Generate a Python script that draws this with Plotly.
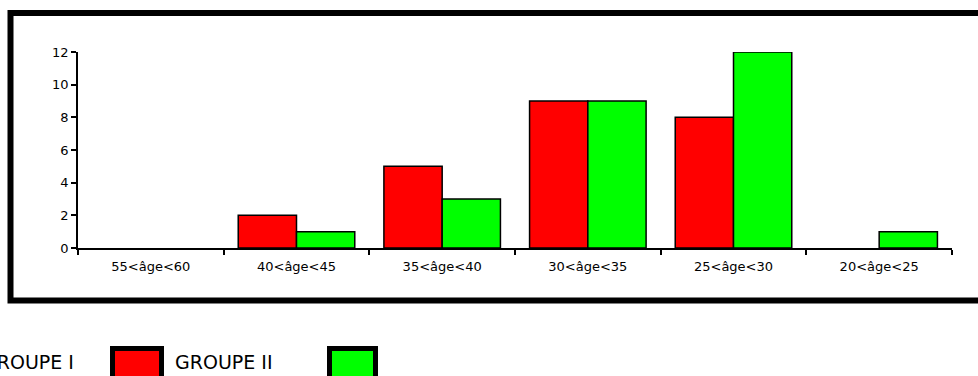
import plotly.graph_objects as go

categories = ["55<âge<60", "40<âge<45", "35<âge<40", "30<âge<35", "25<âge<30", "20<âge<25"]
series_names = ["GROUPE I", "GROUPE II"]
groupe_1 = [0, 2, 5, 9, 8, 0]
groupe_2 = [0, 1, 3, 9, 12, 1]
colors = ["#ff0000", "#00ff00"]
y_ticks = [0, 2, 4, 6, 8, 10, 12]

W, H = 978, 376
L, R, T, B = 78, 26, 52, 128
pw, ph = W - L - R, H - T - B


def px_x(p):
    return (p - L) / pw


def px_y(p):
    return (H - B - p) / ph


font = dict(family="DejaVu Sans", size=13, color="#000000")

fig = go.Figure()
for name, vals, col in zip(series_names, [groupe_1, groupe_2], colors):
    fig.add_trace(go.Bar(
        x=categories, y=vals, name=name,
        marker=dict(color=col,
                    line=dict(color="#000000",
                              width=[1.5 if v else 0 for v in vals])),
        showlegend=False,
    ))

fig.update_layout(
    width=W, height=H,
    margin=dict(l=L, r=R, t=T, b=B),
    paper_bgcolor="#ffffff", plot_bgcolor="#ffffff",
    barmode="group", bargap=0.2, bargroupgap=0,
    font=font,
)
fig.update_xaxes(
    showline=True, linecolor="#000000", linewidth=1.5,
    ticks="outside", ticklen=5, tickwidth=1.5, tickcolor="#000000",
    tickson="boundaries", showgrid=False, zeroline=False,
    tickfont=font, ticklabelstandoff=6,
)
fig.update_yaxes(
    range=[0, 12], tickvals=y_ticks,
    showline=True, linecolor="#000000", linewidth=1.5,
    ticks="outside", ticklen=5, tickwidth=1.5, tickcolor="#000000",
    showgrid=False, zeroline=False, tickfont=font,
)

# outer frame around the chart
fig.add_shape(type="rect", xref="paper", yref="paper",
              x0=px_x(10.5), x1=px_x(1010), y0=px_y(300.5), y1=px_y(13),
              line=dict(color="#000000", width=6), fillcolor="rgba(0,0,0,0)")

# legend drawn below the frame: label followed by its colour box
legend_items = [
    (series_names[0], 76, colors[0], 112.5, 161.5),
    (series_names[1], 173, colors[1], 329.5, 375.5),
]
for i, (label, tx, col, bx0, bx1) in enumerate(legend_items):
    fig.add_annotation(
        x=px_x(tx), y=px_y(362), xref="paper", yref="paper",
        text=label, showarrow=False,
        xanchor="right" if i == 0 else "left", yanchor="middle",
        font=dict(family="DejaVu Sans", size=19, color="#000000"),
    )
    fig.add_shape(type="rect", xref="paper", yref="paper",
                  x0=px_x(bx0), x1=px_x(bx1), y0=px_y(395), y1=px_y(348.5),
                  line=dict(color="#000000", width=5), fillcolor=col)

fig.write_html("out.html")
